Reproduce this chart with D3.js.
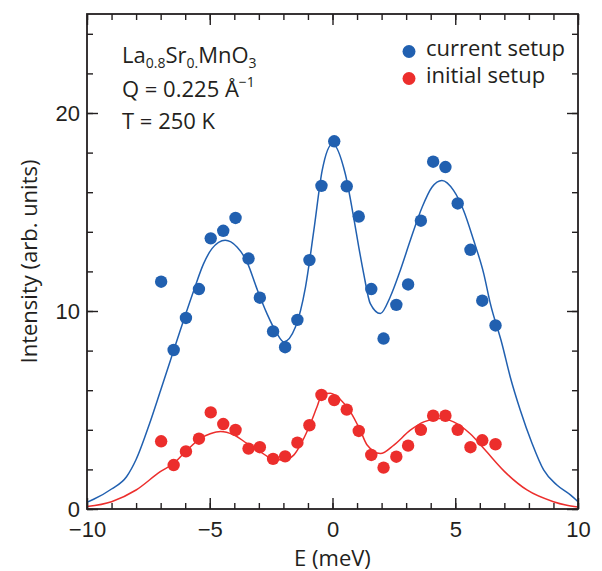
<!DOCTYPE html>
<html>
<head>
<meta charset="utf-8">
<script src="https://cdn.jsdelivr.net/npm/d3@7"></script>
<style>
  html, body { margin: 0; padding: 0; background: #fff; }
  svg { display: block; font-family: "Open Sans", "Noto Sans", sans-serif; }
</style>
</head>
<body>
<svg id="chart" width="602" height="571"></svg>
<script>
// Measured energies (meV) of the scan points
const energies = [-6.98, -6.47, -5.97, -5.44, -4.96, -4.45, -3.95, -3.42, -2.96, -2.42,
  -1.93, -1.43, -0.94, -0.45, 0.07, 0.58, 1.07, 1.58, 2.08, 2.6,
  3.08, 3.6, 4.1, 4.6, 5.1, 5.62, 6.1, 6.64];

// Intensities for the current setup (blue points)
const currentIntensity = [11.48, 8.03, 9.65, 11.11, 13.67, 14.05, 14.70, 12.65, 10.67, 8.97,
  8.17, 9.55, 12.57, 16.32, 18.57, 16.30, 14.77, 11.11, 8.61, 10.31,
  11.34, 14.56, 17.54, 17.27, 15.43, 13.09, 10.52, 9.27];

// Intensities for the initial setup (red points)
const initialIntensity = [3.42, 2.22, 2.91, 3.55, 4.88, 4.29, 3.99, 3.05, 3.12, 2.53,
  2.66, 3.35, 4.23, 5.76, 5.50, 5.02, 3.94, 2.73, 2.09, 2.64,
  3.20, 4.00, 4.71, 4.71, 4.00, 3.12, 3.47, 3.27];

// Model curve through the current-setup data
const currentFitE = [-10, -9.73, -9, -8.39, -8, -7.45, -7, -6.6, -6.2, -5.65, -5.25, -4.91,
  -4.37, -3.89, -3.48, -3.08, -2.67, -2.26, -1.99, -1.51, -1.1, -0.76, -0.42, 0,
  0.52, 0.86, 1.07, 1.27, 1.54, 1.95, 2.35, 2.76, 3.17, 3.65, 4.05, 4.46, 4.93,
  5.34, 5.75, 6.16, 6.43, 6.9, 7.24, 7.65, 8.13, 8.6, 9.14, 9.69, 10];
const currentFitI = [0.34, 0.49, 1.01, 1.63, 2.5, 4.32, 6.0, 7.51, 9.03, 11.04, 12.39, 13.15,
  13.57, 13.23, 12.47, 11.13, 9.87, 8.86, 8.44, 9.19, 11.21, 14.07, 17.1, 18.44,
  16.93, 14.74, 13.23, 11.89, 10.37, 9.87, 10.71, 12.05, 13.57, 15.24, 16.25, 16.59, 16.09,
  15.08, 13.57, 11.89, 10.37, 8.36, 6.67, 4.99, 3.31, 1.97, 1.21, 0.71, 0.37];

// Model curve through the initial-setup data
const initialFitE = [-10, -9, -8, -7, -6.47, -5.93, -5.39, -4.98, -4.56, -4.03, -3.48, -2.94,
  -2.4, -1.99, -1.58, -1.31, -0.97, -0.63, -0.42, -0.09, 0.32, 0.73, 1.13, 1.41,
  1.95, 2.5, 3.17, 3.72, 4.39, 4.93, 5.61, 6.2, 7.0, 7.92, 9.0, 9.5, 10];
const initialFitI = [0.12, 0.37, 0.96, 1.9, 2.3, 2.97, 3.56, 3.8, 3.92, 3.75, 3.31, 2.89,
  2.51, 2.47, 2.72, 3.23, 4.1, 5.16, 5.8, 5.85, 5.53, 4.91, 3.98, 3.23,
  2.8, 3.23, 3.98, 4.4, 4.57, 4.4, 3.8, 3.0, 1.9, 0.96, 0.37, 0.2, 0.1];

const xMajorTicks = [-10, -5, 0, 5, 10];
const xTickLabels = ["\u221210", "\u22125", "0", "5", "10"];
const xMinorTicks = d3.range(-10, 10.01, 1);
const yMajorTicks = [0, 10, 20];
const yMinorTicks = d3.range(0, 25.01, 2);

const seriesNames = ["current setup", "initial setup"];
const seriesColors = ["#2160b0", "#ec2e2c"];

const ink = "#231f20";
const margin = { left: 87, right: 24, top: 14, bottom: 62 };
const width = 602, height = 571;
const svg = d3.select("#chart");

const x = d3.scaleLinear().domain([-10, 10]).range([margin.left, width - margin.right]);
const y = d3.scaleLinear().domain([0, 25]).range([height - margin.bottom, margin.top]);

const plotW = x(10) - x(-10), plotH = y(0) - y(25);

// Clip the curves to the plotting frame
svg.append("defs").append("clipPath").attr("id", "plotClip")
  .append("rect").attr("x", x(-10)).attr("y", y(25)).attr("width", plotW).attr("height", plotH);

const line = d3.line().x(d => x(d[0])).y(d => y(d[1])).curve(d3.curveMonotoneX);

const curves = svg.append("g").attr("clip-path", "url(#plotClip)");
curves.append("path")
  .datum(currentFitE.map((e, i) => [e, currentFitI[i]]))
  .attr("d", line).attr("fill", "none").attr("stroke", seriesColors[0]).attr("stroke-width", 1.5);
curves.append("path")
  .datum(initialFitE.map((e, i) => [e, initialFitI[i]]))
  .attr("d", line).attr("fill", "none").attr("stroke", seriesColors[1]).attr("stroke-width", 1.5);

// Data points
const pts = svg.append("g");
pts.selectAll("circle.cur").data(energies).join("circle").attr("class", "cur")
  .attr("cx", d => x(d)).attr("cy", (d, i) => y(currentIntensity[i])).attr("r", 6.2)
  .attr("fill", seriesColors[0]);
pts.selectAll("circle.ini").data(energies).join("circle").attr("class", "ini")
  .attr("cx", d => x(d)).attr("cy", (d, i) => y(initialIntensity[i])).attr("r", 6.2)
  .attr("fill", seriesColors[1]);

// Inward ticks on all four sides
function styleTicks(g) {
  g.select(".domain").remove();
  g.selectAll(".tick line").attr("stroke", ink).attr("stroke-width", 1.4);
  g.selectAll(".tick text").remove();
}
const majorLen = 11, minorLen = 6;
svg.append("g").attr("transform", `translate(0,${y(0)})`)
  .call(d3.axisBottom(x).tickValues(xMinorTicks).tickSize(-minorLen)).call(styleTicks);
svg.append("g").attr("transform", `translate(0,${y(0)})`)
  .call(d3.axisBottom(x).tickValues(xMajorTicks).tickSize(-majorLen)).call(styleTicks);
svg.append("g").attr("transform", `translate(0,${y(25)})`)
  .call(d3.axisTop(x).tickValues(xMinorTicks).tickSize(-minorLen)).call(styleTicks);
svg.append("g").attr("transform", `translate(0,${y(25)})`)
  .call(d3.axisTop(x).tickValues(xMajorTicks).tickSize(-majorLen)).call(styleTicks);
svg.append("g").attr("transform", `translate(${x(-10)},0)`)
  .call(d3.axisLeft(y).tickValues(yMinorTicks).tickSize(-minorLen)).call(styleTicks);
svg.append("g").attr("transform", `translate(${x(-10)},0)`)
  .call(d3.axisLeft(y).tickValues(yMajorTicks).tickSize(-majorLen)).call(styleTicks);
svg.append("g").attr("transform", `translate(${x(10)},0)`)
  .call(d3.axisRight(y).tickValues(yMinorTicks).tickSize(-minorLen)).call(styleTicks);
svg.append("g").attr("transform", `translate(${x(10)},0)`)
  .call(d3.axisRight(y).tickValues(yMajorTicks).tickSize(-majorLen)).call(styleTicks);

// Tick labels
const xLab = svg.append("g").attr("transform", `translate(0,${y(0)})`)
  .call(d3.axisBottom(x).tickValues(xMajorTicks).tickSize(0).tickPadding(12)
    .tickFormat((d, i) => xTickLabels[i]));
xLab.select(".domain").remove();
xLab.selectAll("text").attr("font-size", 22).attr("fill", ink).attr("font-family", null);

const yLab = svg.append("g").attr("transform", `translate(${x(-10)},0)`)
  .call(d3.axisLeft(y).tickValues(yMajorTicks).tickSize(0).tickPadding(7));
yLab.select(".domain").remove();
yLab.selectAll("text").attr("font-size", 22).attr("fill", ink).attr("font-family", null);

// Frame
svg.append("rect").attr("x", x(-10)).attr("y", y(25)).attr("width", plotW).attr("height", plotH)
  .attr("fill", "none").attr("stroke", ink).attr("stroke-width", 1.8);

// Axis titles
svg.append("text").attr("x", x(0)).attr("y", 566).attr("text-anchor", "middle")
  .attr("font-size", 22).attr("fill", ink).text("E (meV)");
svg.append("text").attr("transform", `translate(37,${(y(0) + y(25)) / 2}) rotate(-90)`)
  .attr("text-anchor", "middle").attr("font-size", 22).attr("fill", ink)
  .text("Intensity (arb. units)");

// Sample and measurement conditions
const info = svg.append("g").attr("fill", ink).attr("font-size", 22);
const t1 = info.append("text").attr("x", 122).attr("y", 63);
t1.append("tspan").text("La");
t1.append("tspan").attr("font-size", 14).attr("dy", 5).text("0.8");
t1.append("tspan").attr("dy", -5).text("Sr");
t1.append("tspan").attr("font-size", 14).attr("dy", 5).text("0.");
t1.append("tspan").attr("dy", -5).text("MnO");
t1.append("tspan").attr("font-size", 14).attr("dy", 5).text("3");
const t2 = info.append("text").attr("x", 122).attr("y", 97);
t2.append("tspan").text("Q = 0.225 \u00C5");
t2.append("tspan").attr("font-size", 14).attr("dy", -10).text("\u22121");
info.append("text").attr("x", 122).attr("y", 129).text("T = 250 K");

// Legend
const legend = svg.append("g");
seriesNames.forEach((name, i) => {
  const yy = 56 + i * 27;
  legend.append("circle").attr("cx", 409).attr("cy", yy - 4.5).attr("r", 6.5).attr("fill", seriesColors[i]);
  legend.append("text").attr("x", 426).attr("y", yy).attr("font-size", 22).attr("fill", ink).text(name);
});
</script>
</body>
</html>
